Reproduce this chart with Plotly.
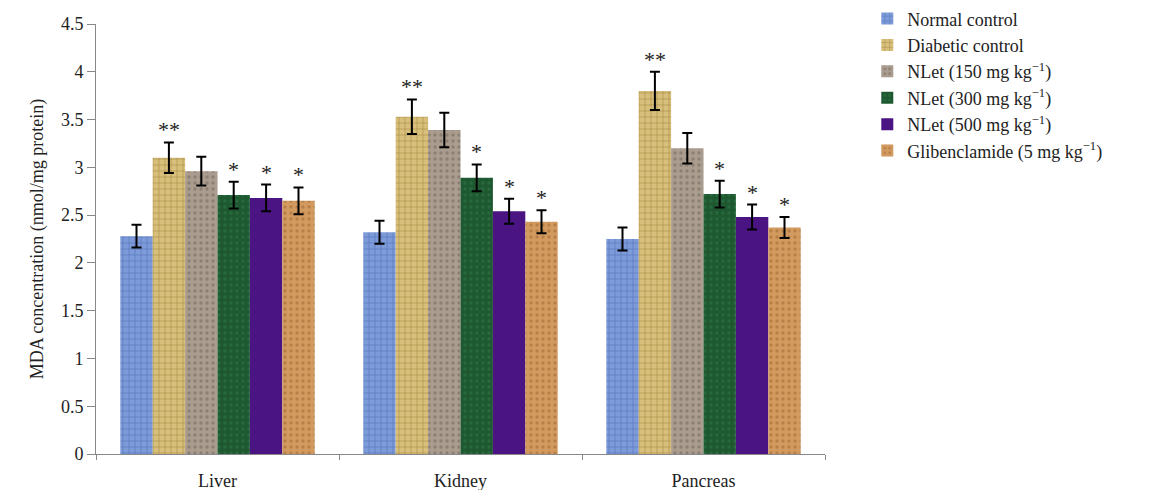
import plotly.graph_objects as go

categories = ["Liver", "Kidney", "Pancreas"]
series_names = [
    "Normal control",
    "Diabetic control",
    "NLet (150 mg kg<sup>−1</sup>)",
    "NLet (300 mg kg<sup>−1</sup>)",
    "NLet (500 mg kg<sup>−1</sup>)",
    "Glibenclamide (5 mg kg<sup>−1</sup>)",
]
normal_control = [2.28, 2.32, 2.25]
diabetic_control = [3.10, 3.53, 3.80]
nlet_150 = [2.96, 3.39, 3.20]
nlet_300 = [2.71, 2.89, 2.72]
nlet_500 = [2.68, 2.54, 2.48]
glibenclamide = [2.65, 2.43, 2.37]

err_normal = [0.12, 0.12, 0.12]
err_diabetic = [0.16, 0.18, 0.20]
err_150 = [0.15, 0.18, 0.16]
err_300 = [0.14, 0.14, 0.14]
err_500 = [0.14, 0.13, 0.13]
err_glib = [0.14, 0.12, 0.11]

significance = ["", "**", "", "*", "*", "*"]

values = [normal_control, diabetic_control, nlet_150, nlet_300, nlet_500, glibenclamide]
errors = [err_normal, err_diabetic, err_150, err_300, err_500, err_glib]

colors = ["#7d9bd8", "#d8c07c", "#aa9c8e", "#1e5830", "#4a1582", "#d39a60"]
pat_fg = ["#3d5fa8", "#8a6a24", "#6e6258", "#2f7a48", "#5e2a9a", "#9c6430"]
pat_shapes = ["+", "+", ".", ".", "", "."]

SERIF = "Liberation Serif"

fig = go.Figure()
for name, vals, errs, col, fg, sh in zip(series_names, values, errors, colors, pat_fg, pat_shapes):
    fig.add_trace(go.Bar(
        name=name, x=categories, y=vals,
        marker=dict(color=col, line=dict(width=0),
                    pattern=dict(shape=sh, fgcolor=fg, size=6, solidity=0.25, fillmode="overlay")),
        error_y=dict(type="data", array=errs, color="black", thickness=2, width=5),
    ))

bargap = 0.2
nser = len(values)
w = (1 - bargap) / nser
for j, (vals, errs, sig) in enumerate(zip(values, errors, significance)):
    if not sig:
        continue
    for i, (v, e) in enumerate(zip(vals, errs)):
        fig.add_annotation(
            x=i + (j - (nser - 1) / 2) * w, y=v + e, text=sig,
            showarrow=False, yanchor="bottom", yshift=-2,
            font=dict(family=SERIF, size=22, color="#222"),
        )

fig.update_layout(
    width=1158, height=490,
    margin=dict(l=88, r=341, t=16, b=44, autoexpand=False),
    paper_bgcolor="white", plot_bgcolor="white",
    barmode="group", bargap=bargap, bargroupgap=0,
    font=dict(family=SERIF, size=16, color="#222"),
    legend=dict(x=1.058, y=1.055, xanchor="left", yanchor="top",
                font=dict(family=SERIF, size=18, color="#222"),
                itemwidth=30, tracegroupgap=0, bgcolor="rgba(0,0,0,0)"),
    showlegend=True,
)
fig.update_yaxes(
    range=[0, 4.5], dtick=0.5, showgrid=False, zeroline=False, automargin=False,
    showline=True, linecolor="#888", linewidth=1,
    ticks="outside", ticklen=8, tickcolor="#888",
    tickfont=dict(family=SERIF, size=18, color="#222"),
    title=dict(text="MDA concentration (nmol/mg protein)", standoff=12,
               font=dict(family=SERIF, size=18, color="#222")),
)
fig.update_xaxes(
    showgrid=False, showline=True, linecolor="#888", linewidth=1, automargin=False,
    ticks="outside", tickson="boundaries", ticklen=5, tickcolor="#888",
    tickfont=dict(family=SERIF, size=18, color="#222"),
    ticklabelstandoff=10,
)

fig.write_html("out.html")
